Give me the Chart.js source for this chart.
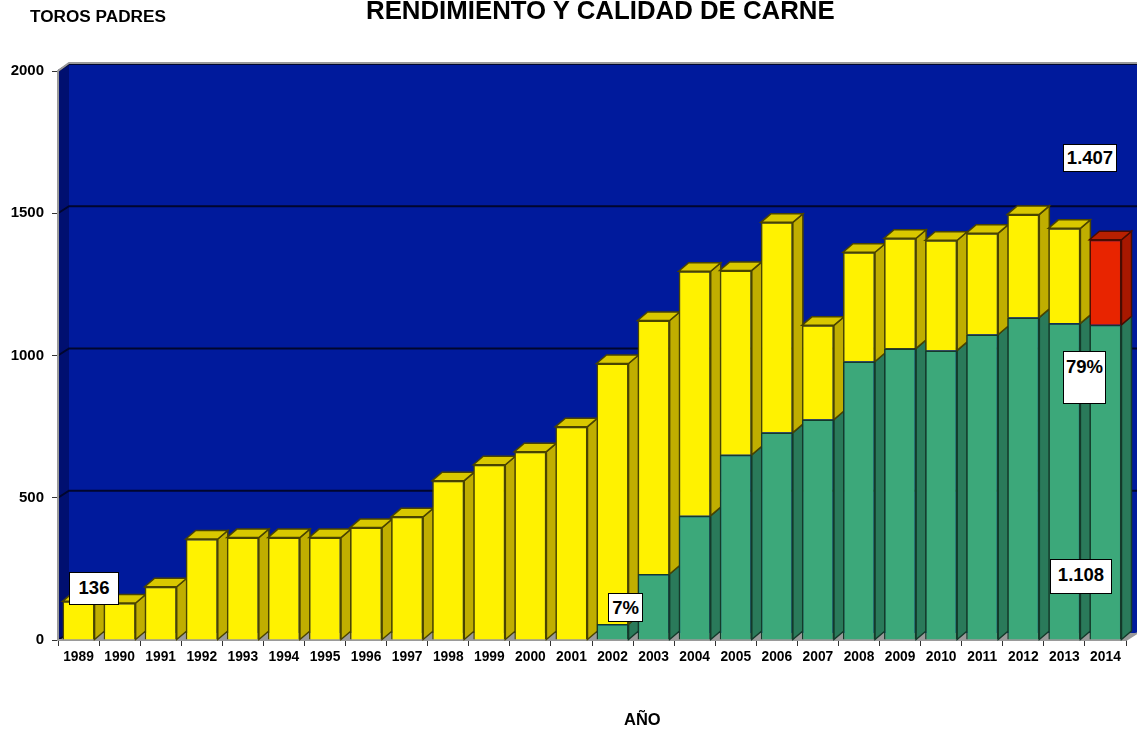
<!DOCTYPE html>
<html lang="es">
<head>
    <meta charset="UTF-8">
    <title>Rendimiento y calidad de carne</title>
    <style>
        html, body { margin: 0; padding: 0; background: #fff; overflow: hidden; }
        body { width: 1137px; height: 729px; position: relative; font-family: "Liberation Sans", Arial, sans-serif; font-weight: bold; color: #000; }
        canvas { position: absolute; left: 0; top: 0; }
        .txt { position: absolute; white-space: nowrap; }
        .caja { position: absolute; box-sizing: border-box; background: #fff; border: 1.5px solid #000; font-size: 18.5px; text-align: center; }
    </style>
    <script src="https://cdn.jsdelivr.net/npm/chart.js"></script>
</head>
<body>
    <canvas id="grafico" width="1137" height="729"></canvas>
    <div class="txt" style="left:30px;top:6px;font-size:17.2px">TOROS PADRES</div>
    <div class="txt" style="left:366px;top:-4px;font-size:25.8px">RENDIMIENTO Y CALIDAD DE CARNE</div>
    <div class="txt" style="left:624px;top:710px;font-size:16.5px">AÑO</div>
    <div class="caja" style="left:69px;top:572px;width:50px;height:33px;line-height:30px">136</div>
    <div class="caja" style="left:1063px;top:144px;width:54px;height:28px;line-height:26px">1.407</div>
    <div class="caja" style="left:1063px;top:351px;width:43px;height:53px;line-height:30px">79%</div>
    <div class="caja" style="left:1050px;top:559px;width:62px;height:35px;line-height:29px">1.108</div>
    <div class="caja" style="left:608px;top:593px;width:35px;height:29px;line-height:27px">7%</div>

    <script>
        const anios = ['1989','1990','1991','1992','1993','1994','1995','1996','1997','1998','1999','2000','2001','2002','2003','2004','2005','2006','2007','2008','2009','2010','2011','2012','2013','2014'];
        const verde = [0,0,0,0,0,0,0,0,0,0,0,0,0,56,232,437,651,729,775,979,1025,1018,1074,1134,1113,1108];
        const amarillo = [136,130,187,355,360,360,360,395,433,560,616,662,750,916,891,859,648,739,331,384,387,387,356,362,334,0];
        const rojo = [0,0,0,0,0,0,0,0,0,0,0,0,0,0,0,0,0,0,0,0,0,0,0,0,0,299];
        const marcasY = [0,500,1000,1500,2000];

        // profundidad 3D: paredes y barras
        const DX = 11, DY = 7;
        const BX = 10, BY = 8.5;

        const colores = [
            { cara: '#3ca87a', lado: '#2a7a5a', tapa: '#2a7a5a', borde: '#143a2a' },
            { cara: '#fff200', lado: '#c0ae00', tapa: '#d9c800', borde: '#4a4400' },
            { cara: '#e82400', lado: '#a81800', tapa: '#b82000', borde: '#4a0c00' }
        ];

        function poligono(c, puntos, relleno, borde) {
            c.beginPath();
            puntos.forEach((p, i) => i ? c.lineTo(p[0], p[1]) : c.moveTo(p[0], p[1]));
            c.closePath();
            c.fillStyle = relleno;
            c.fill();
            if (borde) {
                c.strokeStyle = borde;
                c.lineWidth = 1.5;
                c.stroke();
            }
        }

        // paredes, piso y lineas de grilla
        const paredes = {
            id: 'paredes',
            beforeDatasetsDraw(chart) {
                const c = chart.ctx, a = chart.chartArea, y = chart.scales.y;
                c.save();
                poligono(c, [[a.left + DX, a.top - DY], [a.right + DX, a.top - DY], [a.right + DX, a.bottom - DY], [a.left + DX, a.bottom - DY]], '#001a9c');
                poligono(c, [[a.left, a.top], [a.left + DX, a.top - DY], [a.left + DX, a.bottom - DY], [a.left, a.bottom]], '#000f70');
                poligono(c, [[a.left, a.bottom], [a.left + DX, a.bottom - DY], [a.right + DX, a.bottom - DY], [a.right, a.bottom]], '#9a9a9a');
                c.strokeStyle = '#00062e';
                c.lineWidth = 2;
                marcasY.forEach(v => {
                    const py = y.getPixelForValue(v);
                    c.beginPath();
                    c.moveTo(a.left, py);
                    c.lineTo(a.left + DX, py - DY);
                    if (v > 0) c.lineTo(a.right + DX, py - DY);
                    c.stroke();
                });
                c.strokeStyle = '#9a9a9a';
                c.beginPath();
                c.moveTo(a.left, a.top);
                c.lineTo(a.left + DX, a.top - DY - 1);
                c.lineTo(a.right + DX, a.top - DY - 1);
                c.moveTo(a.left, a.top);
                c.lineTo(a.left, a.bottom);
                c.lineTo(a.right, a.bottom);
                c.lineTo(a.right + DX, a.bottom - DY);
                c.stroke();
                c.restore();
            }
        };

        // caras laterales y tapa de cada barra, a partir de las barras del grafico
        const caras3d = {
            id: 'caras3d',
            beforeDatasetsDraw(chart) {
                const c = chart.ctx;
                c.save();
                anios.forEach((_, i) => {
                    let tope = -1;
                    chart.data.datasets.forEach((d, k) => { if (d.data[i] > 0) tope = k; });
                    chart.data.datasets.forEach((d, k) => {
                        if (!(d.data[i] > 0)) return;
                        const b = chart.getDatasetMeta(k).data[i];
                        const der = b.x + b.width / 2, izq = b.x - b.width / 2;
                        const col = colores[k];
                        poligono(c, [[der, b.y], [der + BX, b.y - BY], [der + BX, b.base - BY], [der, b.base]], col.lado, col.borde);
                        if (k === tope) {
                            poligono(c, [[izq, b.y], [izq + BX, b.y - BY], [der + BX, b.y - BY], [der, b.y]], col.tapa, col.borde);
                        }
                    });
                });
                c.restore();
            }
        };

        function serie(datos, k) {
            return {
                data: datos,
                backgroundColor: colores[k].cara,
                borderColor: colores[k].borde,
                borderWidth: 1.5,
                barPercentage: 0.78,
                categoryPercentage: 1
            };
        }

        new Chart(document.getElementById('grafico').getContext('2d'), {
            type: 'bar',
            data: {
                labels: anios,
                datasets: [serie(verde, 0), serie(amarillo, 1), serie(rojo, 2)]
            },
            plugins: [paredes, caras3d],
            options: {
                responsive: false,
                animation: false,
                layout: { padding: { top: 71, right: 11 } },
                plugins: { legend: { display: false }, tooltip: { enabled: false } },
                scales: {
                    x: {
                        stacked: true,
                        afterFit(s) { s.height = 89; },
                        grid: { drawOnChartArea: false, drawTicks: true, tickLength: 6, color: '#333', offset: true },
                        border: { display: false },
                        ticks: { color: '#000', font: { family: 'Liberation Sans', size: 13.8, weight: 'bold' }, maxRotation: 0, autoSkip: false, padding: 3 }
                    },
                    y: {
                        stacked: true,
                        min: 0,
                        max: 2000,
                        afterFit(s) { s.width = 58; },
                        grid: { drawOnChartArea: false, drawTicks: true, tickLength: 6, color: '#333' },
                        border: { display: false },
                        ticks: {
                            stepSize: 500,
                            color: '#000',
                            font: { family: 'Liberation Sans', size: 15, weight: 'bold' },
                            padding: 8,
                            callback: v => String(v)
                        }
                    }
                }
            }
        });
    </script>
</body>
</html>
